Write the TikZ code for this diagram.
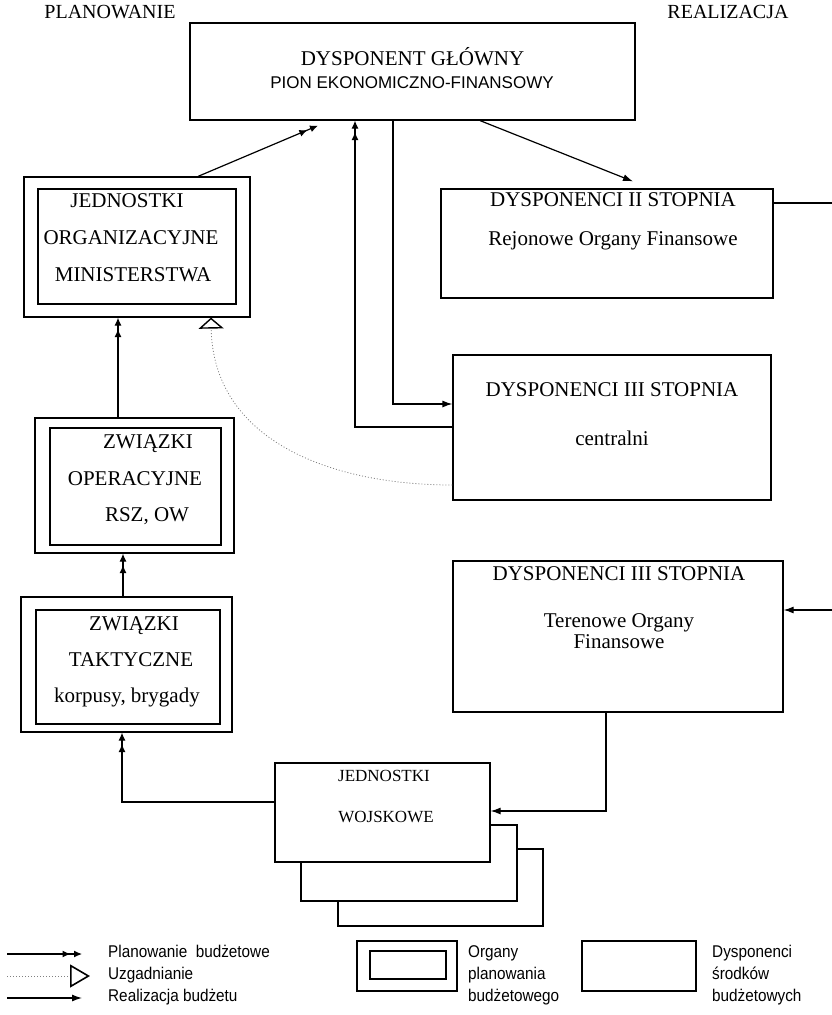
\documentclass[tikz,border=0pt]{standalone}
\usepackage{fontspec}
\setmainfont{Liberation Serif}
\newfontfamily\hsans{Liberation Sans}
\newfontfamily\nsans[FakeStretch=0.9]{Liberation Sans}
\usetikzlibrary{arrows.meta,calc}
\newcommand\fbig{\fontsize{21}{25}\selectfont}
\newcommand\fmid{\fontsize{17}{20}\selectfont}
\newcommand\fleg{\nsans\fontsize{17}{20}\selectfont}
\begin{document}
\begin{tikzpicture}[x=1pt,y=-1pt,
  box/.style={draw, line width=1.2pt, inner sep=0pt, fill=white},
  txt/.style={inner sep=0pt, text height=0.66em, text depth=0pt},
  plan/.style={line width=1.2pt, -{Latex[length=8pt,width=7pt,sep=3.5pt]Latex[length=8pt,width=7pt]}},
  real/.style={line width=1.2pt, -{Latex[length=10pt,width=7pt]}},
  uzg/.style={line width=0.8pt, gray, dash pattern=on 1pt off 2pt,
     -{Triangle[open,length=11pt,width=25pt,line width=1.4pt,black]}},
]
\useasboundingbox (0,0) rectangle (831,1015);

% header labels
\node[txt,font=\fontsize{20}{24}\selectfont] (plab) at (110,15) {PLANOWANIE};
\node[txt,font=\fontsize{20}{24}\selectfont] (rlab) at (728,15) {REALIZACJA};

% main box
\node[box,minimum width=445pt,minimum height=97pt] (main) at (412.5,71.5) {};
\node[txt,font=\fbig] (mainT1) at (412.5,62) {DYSPONENT GŁÓWNY};
\node[txt,font=\hsans\fmid] (mainT2) at (412,85) {PION EKONOMICZNO-FINANSOWY};

% Jednostki organizacyjne ministerstwa
\node[box,minimum width=226pt,minimum height=140pt] (jomO) at (137,247) {};
\node[box,minimum width=198pt,minimum height=115pt] (jomI) at (137,246.5) {};
\node[txt,font=\fbig] (jomT1) at (127,204) {JEDNOSTKI};
\node[txt,font=\fbig] (jomT2) at (131,241) {ORGANIZACYJNE};
\node[txt,font=\fbig] (jomT3) at (133,278) {MINISTERSTWA};

% Dysponenci II stopnia
\node[box,minimum width=332pt,minimum height=109pt] (dII) at (607,243.5) {};
\node[txt,font=\fbig] (dIIT1) at (613,203) {DYSPONENCI II STOPNIA};
\node[txt,font=\fbig] (dIIT2) at (613,242) {Rejonowe Organy Finansowe};

% Dysponenci III stopnia centralni
\node[box,minimum width=318pt,minimum height=145pt] (dIIIc) at (612,427.5) {};
\node[txt,font=\fbig] (dIIIcT1) at (612,393) {DYSPONENCI III STOPNIA};
\node[txt,font=\fbig] (dIIIcT2) at (612,442) {centralni};

% Zwiazki operacyjne
\node[box,minimum width=199pt,minimum height=135pt] (zorO) at (134.5,485.5) {};
\node[box,minimum width=171pt,minimum height=117pt] (zorI) at (135.5,486.5) {};
\node[txt,font=\fbig] (zorT1) at (148,445) {ZWIĄZKI};
\node[txt,font=\fbig] (zorT2) at (135,482) {OPERACYJNE};
\node[txt,font=\fbig] (zorT3) at (147,518) {RSZ, OW};

% Dysponenci III stopnia terenowe
\node[box,minimum width=330pt,minimum height=151pt] (dIIIt) at (618,636.5) {};
\node[txt,font=\fbig] (dIIItT1) at (619,577) {DYSPONENCI III STOPNIA};
\node[txt,font=\fbig] (dIIItT2) at (619,624) {Terenowe Organy};
\node[txt,font=\fbig] (dIIItT3) at (619,645) {Finansowe};

% Zwiazki taktyczne
\node[box,minimum width=211pt,minimum height=135pt] (ztO) at (126.5,664.5) {};
\node[box,minimum width=184pt,minimum height=114pt] (ztI) at (128,667) {};
\node[txt,font=\fbig] (ztT1) at (134,627) {ZWIĄZKI};
\node[txt,font=\fbig] (ztT2) at (131,663) {TAKTYCZNE};
\node[txt,font=\fbig] (ztT3) at (127,699) {korpusy, brygady};

% Jednostki wojskowe (stack)
\node[box,minimum width=205pt,minimum height=77pt] (jw3) at (440.5,887.5) {};
\node[box,minimum width=216pt,minimum height=76pt] (jw2) at (409,863) {};
\node[box,minimum width=215pt,minimum height=99pt] (jw) at (382.5,812.5) {};
\node[txt,font=\fontsize{17}{20}\selectfont] (jwT1) at (384,778) {JEDNOSTKI};
\node[txt,font=\fontsize{17}{20}\selectfont] (jwT2) at (386,819) {WOJSKOWE};

% connectors
\draw[plan] (jomO.north -| 198,0) -- ($(main.south -| 318,0)+(0,5)$);
\draw[plan] (dIIIc.west |- 0,427) -| (main.south -| 355,0);
\draw[real] (main.south -| 393,0) |- (dIIIc.west |- 0,404);
\draw[real] (main.south -| 480,0) -- ($(dII.north -| 633,0)+(0,-7)$);
\draw[real] (dII.east |- 0,203) -- (836,203) -- (836,610) -- (dIIIt.east |- 0,610);
\draw[plan] (zorO.north -| 118,0) -- (jomO.south -| 118,0);
\draw[plan] (ztO.north -| 123,0) -- (zorO.south -| 123,0);
\draw[plan] (jw.west |- 0,802) -| (ztO.south -| 122,0);
\draw[real] (dIIIt.south -| 606,0) |- (jw.east |- 0,811);
\draw[uzg] (dIIIc.west |- 0,485) .. controls (330,485) and (213,440) .. (jomO.south -| 211,0);

% legend
\coordinate (lp1) at (7,954); \coordinate (lp2) at (82,954);
\coordinate (lu1) at (7,976); \coordinate (lu2) at (90,976);
\coordinate (lr1) at (7,998); \coordinate (lr2) at (82,998);
\draw[plan] (lp1) -- (lp2);
\draw[line width=0.8pt, gray, dash pattern=on 1pt off 2pt,
  -{Triangle[open,length=20pt,width=23pt,line width=1.6pt,black]}] (lu1) -- (lu2);
\draw[real] (lr1) -- (lr2);
\node[txt,anchor=west,font=\fleg] (lpT) at (108,954) {Planowanie\ \ budżetowe};
\node[txt,anchor=west,font=\fleg] (luT) at (108,976) {Uzgadnianie};
\node[txt,anchor=west,font=\fleg] (lrT) at (108,998) {Realizacja budżetu};

\node[box,minimum width=100pt,minimum height=50pt] (legO) at (407,966) {};
\node[box,minimum width=76pt,minimum height=28pt] (legI) at (408,965) {};
\node[txt,anchor=west,font=\fleg] (lo1) at (468,954) {Organy};
\node[txt,anchor=west,font=\fleg] (lo2) at (468,976) {planowania};
\node[txt,anchor=west,font=\fleg] (lo3) at (468,998) {budżetowego};

\node[box,minimum width=114pt,minimum height=50pt] (legS) at (639,966) {};
\node[txt,anchor=west,font=\fleg] (ls1) at (712,954) {Dysponenci};
\node[txt,anchor=west,font=\fleg] (ls2) at (712,976) {środków};
\node[txt,anchor=west,font=\fleg] (ls3) at (712,998) {budżetowych};
\end{tikzpicture}
\end{document}
